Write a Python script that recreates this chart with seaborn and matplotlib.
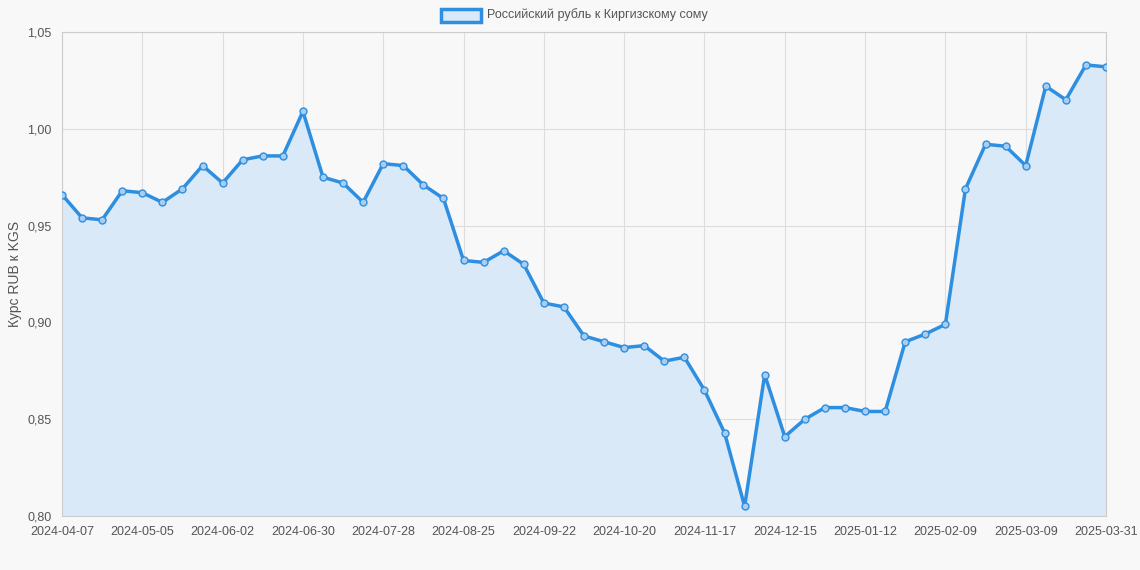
import pandas as pd
import matplotlib.pyplot as plt
import seaborn as sns

# weekly rate RUB -> KGS
rates = [0.966, 0.954, 0.953, 0.968, 0.967, 0.962, 0.969, 0.981, 0.972, 0.984,
         0.986, 0.986, 1.009, 0.975, 0.972, 0.962, 0.982, 0.981, 0.971, 0.964,
         0.932, 0.931, 0.937, 0.930, 0.910, 0.908, 0.893, 0.890, 0.887, 0.888,
         0.880, 0.882, 0.865, 0.843, 0.805, 0.873, 0.841, 0.850, 0.856, 0.856,
         0.854, 0.854, 0.890, 0.894, 0.899, 0.969, 0.992, 0.991, 0.981, 1.022,
         1.015, 1.033, 1.032]
tick_pos = [0, 4, 8, 12, 16, 20, 24, 28, 32, 36, 40, 44, 48, 52]
tick_labels = ['2024-04-07', '2024-05-05', '2024-06-02', '2024-06-30', '2024-07-28',
               '2024-08-25', '2024-09-22', '2024-10-20', '2024-11-17', '2024-12-15',
               '2025-01-12', '2025-02-09', '2025-03-09', '2025-03-31']
yticks = [0.80, 0.85, 0.90, 0.95, 1.00, 1.05]

df = pd.DataFrame({'i': range(len(rates)), 'rate': rates})

sns.set_style('whitegrid')
plt.rcParams['font.family'] = ['Liberation Sans', 'DejaVu Sans']

fig = plt.figure(figsize=(11.4, 5.7), dpi=100, facecolor='#f8f8f8')
ax = fig.add_axes([62/1140, 1 - 516/570, (1106-62)/1140, (516-32)/570])
ax.set_facecolor('#f8f8f8')

blue = '#2e8fe0'
ax.fill_between(df['i'], df['rate'], 0.80, color='#d9e9f7', zorder=1)
sns.lineplot(data=df, x='i', y='rate', ax=ax, color=blue, linewidth=2.5, zorder=3,
             marker='o', markersize=5, markerfacecolor='#a8cdf0', markeredgecolor=blue,
             markeredgewidth=1)

ax.set_xlim(0, 52)
ax.set_ylim(0.80, 1.05)
ax.set_xticks(tick_pos)
ax.set_xticklabels(tick_labels)
ax.set_yticks(yticks)
ax.set_yticklabels([f'{v:.2f}'.replace('.', ',') for v in yticks])
ax.tick_params(labelsize=9, colors='#555555', length=4)
ax.grid(color='#dddddd', linewidth=0.8)
for s in ax.spines.values():
    s.set_color('#cccccc')
    s.set_linewidth(0.8)
ax.set_xlabel('')
ax.set_ylabel('Курс RUB к KGS', fontsize=10, color='#555555')

# legend
fig.patches.append(plt.Rectangle((441/1140, 1 - 22/570), 40/1140, 13/570, transform=fig.transFigure,
                                 facecolor='#d9e9f7', edgecolor=blue, linewidth=2.5))
fig.text(487/1140, 1 - 15/570, 'Российский рубль к Киргизскому сому', fontsize=9,
         color='#555555', va='center')

fig.savefig('out.png', dpi=100, facecolor=fig.get_facecolor())
